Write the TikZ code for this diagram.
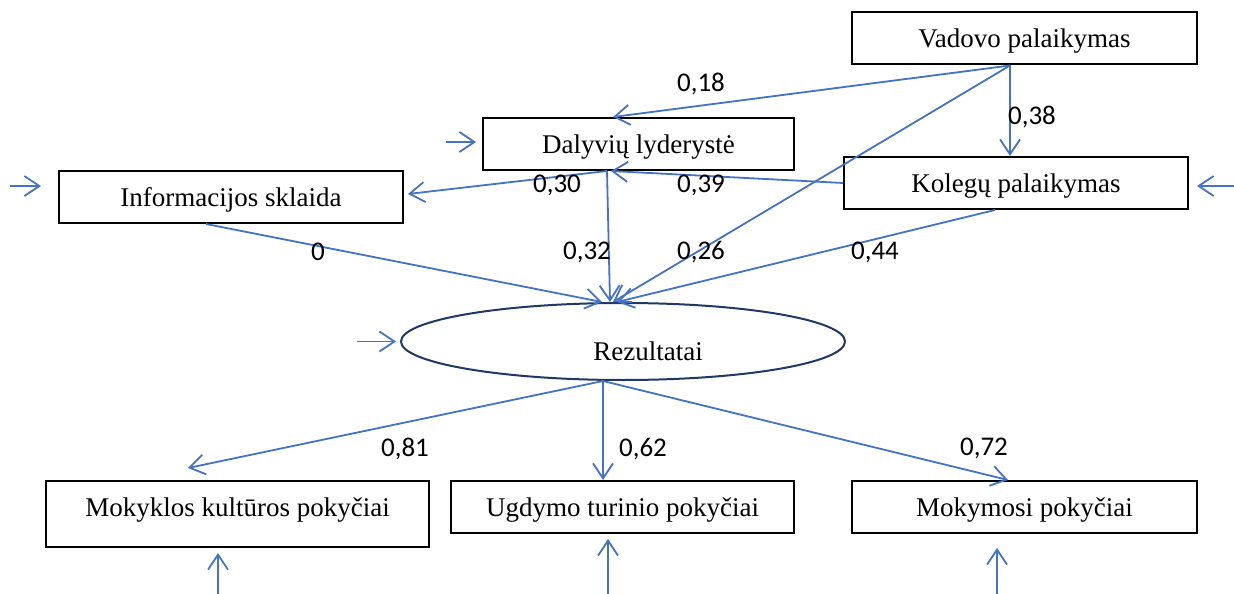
\documentclass[tikz,border=0pt]{standalone}
\usepackage{fontspec}
\setmainfont{Liberation Serif}
\newfontfamily\numfont{Carlito}
\usetikzlibrary{arrows.meta,shapes.geometric}
\definecolor{linkblue}{HTML}{4472C4}
\definecolor{ovalblue}{HTML}{1F3864}

\begin{document}
\begin{tikzpicture}[x=1pt,y=-1pt,
 box/.style={draw,line width=2pt,inner sep=0pt,text height=35pt,text depth=17pt,font=\fontsize{27}{32}\selectfont},
 link/.style={draw=linkblue,line width=1.8pt,-{Straight Barb[length=15pt,width=20pt]}},
 coef/.style={inner sep=0pt,font=\numfont\fontsize{27}{32}\selectfont}]
 \useasboundingbox (0,0) rectangle (1234,594);
 % factors
 \node[box,minimum width=345pt] (vad) at (1024.5,38.5) {Vadovo palaikymas};
 \node[box,minimum width=311pt] (dal) at (638.5,144) {Dalyvių lyderystė};
 \node[box,minimum width=344pt] (kol) at (1016,183) {Kolegų palaikymas};
 \node[box,minimum width=344pt] (inf) at (231,197) {Informacijos sklaida};
 \node[ellipse,draw=ovalblue,line width=2pt,minimum width=444pt,minimum height=77pt,inner sep=0pt,
   text height=37pt,text depth=0pt,font=\fontsize{27}{32}\selectfont] (rez) at (623,341.5) {\hspace*{50pt}Rezultatai};
 \node[box,minimum width=383pt,text depth=31pt] (mok) at (237.5,514) {Mokyklos kultūros pokyčiai};
 \node[box,minimum width=343pt] (ugd) at (622.5,507) {Ugdymo turinio pokyčiai};
 \node[box,minimum width=345pt] (mkm) at (1024.5,507) {Mokymosi pokyčiai};
 % paths
 \draw[link] ([xshift=-14.5pt]vad.south) -- ([xshift=-25.5pt]dal.north);
 \draw[link] ([xshift=-14.5pt]vad.south) -- ([xshift=-6pt]kol.north);
 \draw[link] ([xshift=-14.5pt]vad.south) -- ([xshift=-10pt]rez.north);
 \draw[link] ([xshift=-31.5pt]dal.south) -- ([xshift=4pt,yshift=3pt]inf.east);
 \draw[link] (kol.west) -- ([xshift=-27.5pt]dal.south);
 \draw[link] ([xshift=-31.5pt]dal.south) -- ([xshift=-13pt]rez.north);
 \draw[link] ([xshift=-21pt]kol.south) -- ([xshift=-6pt]rez.north);
 \draw[link] ([xshift=-25pt]inf.south) -- ([xshift=-21pt]rez.north);
 \draw[link] ([xshift=-20pt]rez.south) -- ([xshift=-49.5pt,yshift=12pt]mok.north);
 \draw[link] ([xshift=-20pt]rez.south) -- ([xshift=-19.5pt]ugd.north);
 \draw[link] ([xshift=-20pt]rez.south) -- ([xshift=-16.5pt]mkm.north);
 % residuals
 \coordinate (inf-e) at (10,186);
 \coordinate (dal-e) at (446,142);
 \coordinate (rez-e) at (357,341.5);
 \coordinate (kol-e) at (1234,186);
 \coordinate (mok-e) at (218,594);
 \coordinate (ugd-e) at (608,594);
 \coordinate (mkm-e) at (997,594);
 \draw[link] (inf-e) -- ([xshift=-17pt,yshift=11pt]inf.west);
 \draw[link] (dal-e) -- ([xshift=-6pt,yshift=2pt]dal.west);
 \draw[link] (rez-e) -- ([xshift=-4pt]rez.west);
 \draw[link] (kol-e) -- ([xshift=8pt,yshift=-3pt]kol.east);
 \draw[link] (mok-e) -- ([xshift=-19.5pt,yshift=-5pt]mok.south);
 \draw[link] (ugd-e) -- ([xshift=-14.5pt,yshift=-5pt]ugd.south);
 \draw[link] (mkm-e) -- ([xshift=-27.5pt,yshift=-14pt]mkm.south);
 % coefficients
 \node[coef] (c18) at (701,84) {0,18};
 \node[coef] (c38) at (1032,117) {0,38};
 \node[coef] (c30) at (557,185) {0,30};
 \node[coef] (c39) at (701,185) {0,39};
 \node[coef] (c0) at (318,252) {0};
 \node[coef] (c32) at (587,252) {0,32};
 \node[coef] (c26) at (701,252) {0,26};
 \node[coef] (c44) at (875,252) {0,44};
 \node[coef] (c81) at (405,449) {0,81};
 \node[coef] (c62) at (643,449) {0,62};
 \node[coef] (c72) at (984,448) {0,72};
\end{tikzpicture}
\end{document}
